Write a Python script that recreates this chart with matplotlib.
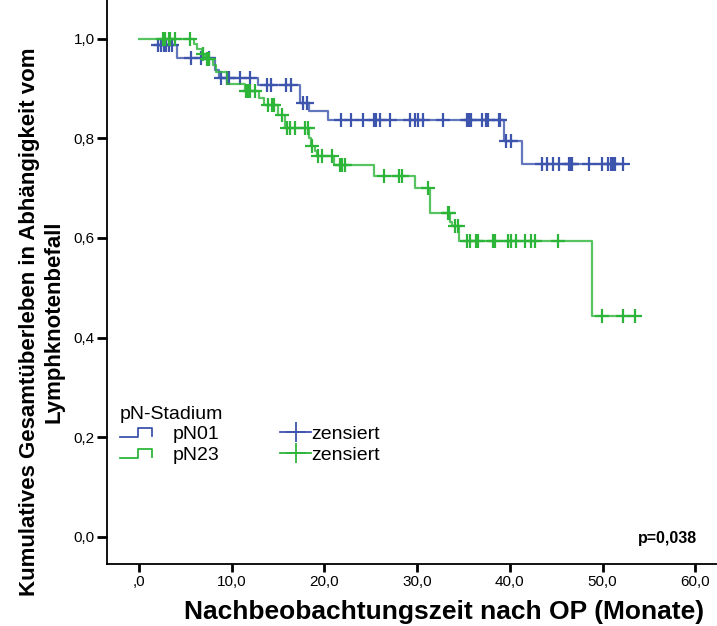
"""Kaplan-Meier plot: overall survival by lymph node stage (pN01 vs pN23)."""

import matplotlib

matplotlib.use("Agg")

import matplotlib.pyplot as plt
import numpy as np
from matplotlib.legend_handler import HandlerBase
from matplotlib.lines import Line2D

plt.rcParams["font.family"] = ["Liberation Sans", "DejaVu Sans"]

BLUE = "#3d55ad"
GREEN = "#2db53a"

# step curves: time of each step (months) and survival after it
PN01_TIME = [1.7, 4.1, 8.2, 8.6, 12.8, 17.4, 18.3, 20.4, 39.4, 41.3, 52.3]
PN01_SURV = [0.988, 0.962, 0.937, 0.922, 0.907, 0.872, 0.855, 0.837, 0.795, 0.748, 0.748]
PN01_CENS = [2.0, 2.4, 2.7, 2.9, 3.2, 3.6, 5.6, 6.7, 7.6, 8.9, 9.5, 9.7, 10.9, 12.0,
             13.8, 14.2, 15.9, 16.4, 17.7, 18.1, 21.8, 22.9, 24.2, 25.4, 25.6, 26.0,
             27.1, 29.2, 29.8, 30.1, 30.6, 32.8, 35.4, 35.6, 35.8, 37.0, 37.4, 37.6,
             38.8, 38.9, 39.6, 40.1, 43.5, 44.0, 44.7, 45.3, 46.4, 46.6, 46.7, 48.5,
             49.9, 50.6, 50.9, 51.1, 51.3, 52.2]

PN23_TIME = [0.0, 5.9, 6.3, 6.8, 7.1, 8.0, 8.3, 9.5, 11.4, 12.9, 13.5, 15.0, 15.7,
             18.3, 18.6, 19.0, 19.2, 21.0, 25.3, 29.8, 31.4, 33.5, 33.8, 34.5, 48.9, 53.5]
PN23_SURV = [1.0, 0.990, 0.980, 0.970, 0.959, 0.947, 0.934, 0.909, 0.896, 0.882, 0.867,
             0.846, 0.821, 0.800, 0.784, 0.774, 0.765, 0.747, 0.724, 0.700, 0.651, 0.633,
             0.623, 0.594, 0.444, 0.444]
PN23_CENS = [2.6, 2.8, 3.2, 3.4, 3.9, 5.5, 6.9, 7.3, 7.6, 11.5, 11.8, 12.0, 12.5, 13.9,
             14.3, 14.6, 15.4, 16.0, 16.3, 16.8, 17.9, 18.2, 18.7, 19.3, 19.7, 20.8,
             21.7, 21.9, 22.2, 26.4, 28.0, 28.4, 31.2, 33.3, 33.4, 34.1, 34.4, 35.4,
             35.7, 36.4, 36.6, 38.2, 38.4, 39.8, 40.1, 40.7, 41.6, 42.3, 42.7, 45.2,
             49.9, 52.2, 53.5]

X_TICKS = [0, 10, 20, 30, 40, 50, 60]
X_TICKLABELS = [",0", "10,0", "20,0", "30,0", "40,0", "50,0", "60,0"]
Y_TICKS = [0.0, 0.2, 0.4, 0.6, 0.8, 1.0]
Y_TICKLABELS = ["0,0", "0,2", "0,4", "0,6", "0,8", "1,0"]
P_VALUE = "p=0,038"


def censor_y(times, surv, cens):
    idx = np.searchsorted(times, cens, side="right") - 1
    return np.asarray(surv)[idx]


class IconHandler(HandlerBase):
    """Legend icons: SPSS-like step glyph or a '+' on a short line."""

    def __init__(self, kind):
        super().__init__()
        self.kind = kind

    def create_artists(self, legend, orig_handle, xdescent, ydescent, width, height, fontsize, trans):
        x0, y0 = -xdescent, -ydescent
        c = orig_handle.get_color()
        if self.kind == "step":
            w = 0.62 * width
            xs = [x0, x0 + 0.55 * w, x0 + 0.55 * w, x0 + w, x0 + w]
            ys = [y0 + 0.15 * height, y0 + 0.15 * height, y0 + 0.8 * height,
                  y0 + 0.8 * height, y0 + 0.25 * height]
            art = [Line2D(xs, ys, color=c, lw=1.3)]
        else:
            xa = x0 + 0.42 * width
            xm = xa + 0.5 * (x0 + width - xa)
            art = [Line2D([xa, x0 + width], [y0 + height / 2] * 2, color=c, lw=1.3),
                   Line2D([xm], [y0 + height / 2], color=c, marker="+", ms=14, mew=1.3)]
        for a in art:
            a.set_transform(trans)
        return art


fig = plt.figure(figsize=(7.17, 6.26), dpi=100)
ax = fig.add_axes([106.7 / 717, 62 / 626, 1 - 106.7 / 717, 564 / 626])

for times, surv, cens, color in [
    (PN01_TIME, PN01_SURV, PN01_CENS, BLUE),
    (PN23_TIME, PN23_SURV, PN23_CENS, GREEN),
]:
    ax.step(times, surv, where="post", color=color, lw=1.6, alpha=0.8)
    ax.plot(cens, censor_y(times, surv, cens), ls="none", marker="+",
            ms=10, mew=1.6, color=color)

ax.set_xlim(-3.48, 62.35)
ax.set_ylim(-0.055, 1.078)
ax.set_xticks(X_TICKS, X_TICKLABELS, fontsize=11)
ax.set_yticks(Y_TICKS, Y_TICKLABELS, fontsize=11)
ax.tick_params(axis="x", length=6, width=2, color="black", pad=2)
ax.tick_params(axis="y", length=7.5, width=2, color="black", pad=1)
ax.spines[["top", "right"]].set_visible(False)
for s in ("left", "bottom"):
    ax.spines[s].set_linewidth(1.3)

h1 = Line2D([], [], color=BLUE)
h2 = Line2D([], [], color=GREEN)
h3 = Line2D([], [], color=BLUE)
h4 = Line2D([], [], color=GREEN)
ax.legend([h1, h2, h3, h4], ["pN01", "pN23", "zensiert", "zensiert"], ncol=2,
          title="pN-Stadium", title_fontsize=14, fontsize=14, alignment="left",
          frameon=False, loc="upper left", bbox_to_anchor=(0.022, 0.281),
          borderpad=0, borderaxespad=0, handlelength=2.67, handletextpad=0.05,
          labelspacing=0.16, columnspacing=2.0,
          handler_map={h1: IconHandler("step"), h2: IconHandler("step"),
                       h3: IconHandler("plus"), h4: IconHandler("plus")})

ax.text(0.967, 0.046, P_VALUE, transform=ax.transAxes, ha="right", va="center",
        fontsize=11.5, fontweight="bold")

fig.text(444 / 717, 14 / 626, "Nachbeobachtungszeit nach OP (Monate)", ha="center",
         va="center", fontsize=19, fontweight="bold")
fig.text(42 / 717, 304 / 626, "Kumulatives Gesamtüberleben in Abhängigkeit vom\nLymphknotenbefall",
         rotation=90, ha="center", va="center", multialignment="center", fontsize=16,
         fontweight="bold")

fig.savefig("out.png", dpi=100)
